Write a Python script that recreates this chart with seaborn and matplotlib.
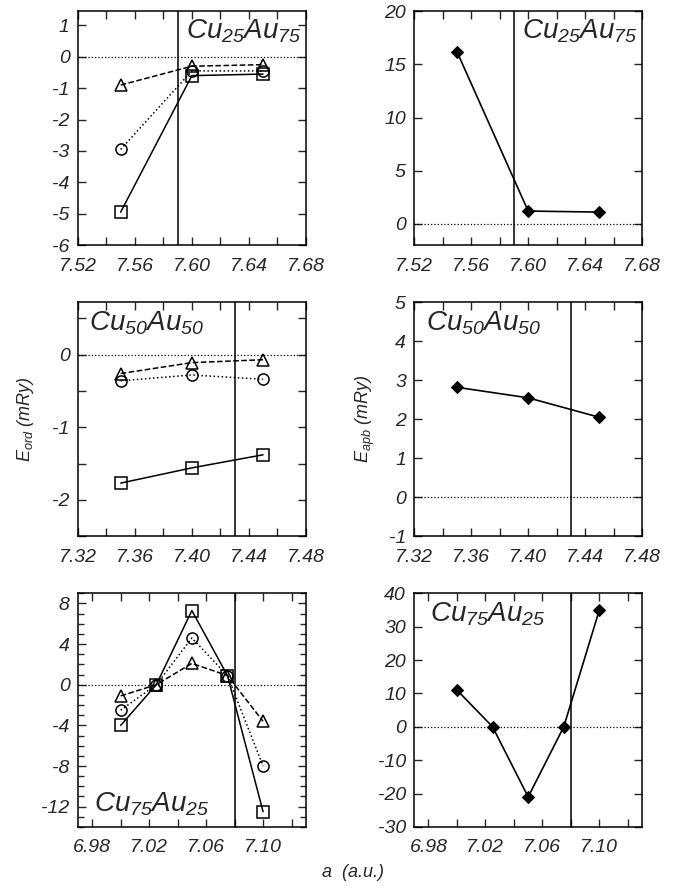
import numpy as np
import seaborn as sns
import matplotlib.pyplot as plt
import matplotlib.ticker as ticker

# ---- data ----
a_cu25 = [7.55, 7.60, 7.65]
ord_sq_cu25 = [-4.95, -0.6, -0.55]
ord_ci_cu25 = [-2.95, -0.45, -0.45]
ord_tr_cu25 = [-0.9, -0.3, -0.25]
apb_cu25 = [16.2, 1.2, 1.1]
a0_cu25 = 7.59

a_cu50 = [7.35, 7.40, 7.45]
ord_sq_cu50 = [-1.77, -1.56, -1.38]
ord_ci_cu50 = [-0.36, -0.28, -0.34]
ord_tr_cu50 = [-0.26, -0.11, -0.07]
apb_cu50 = [2.82, 2.55, 2.05]
a0_cu50 = 7.43

a_cu75 = [7.00, 7.025, 7.05, 7.075, 7.10]
ord_sq_cu75 = [-4.0, 0.0, 7.3, 0.9, -12.5]
ord_ci_cu75 = [-2.5, 0.0, 4.6, 0.9, -8.0]
ord_tr_cu75 = [-1.1, 0.0, 2.1, 0.9, -3.6]
apb_cu75 = [11.0, 0.0, -21.0, 0.0, 35.0]
a0_cu75 = 7.08

sns.set_style("ticks")
plt.rcParams['font.family'] = ['Liberation Sans', 'DejaVu Sans']
plt.rcParams['font.style'] = 'italic'
plt.rcParams['axes.unicode_minus'] = False
plt.rcParams['mathtext.fontset'] = 'custom'
plt.rcParams['mathtext.it'] = 'Liberation Sans:italic'
plt.rcParams['mathtext.rm'] = 'Liberation Sans:italic'

fig = plt.figure(figsize=(6.78, 8.92), dpi=100)

LEFT_X, RIGHT_X, W, H = 0.115, 0.611, 0.336, 0.262
ROWS = [0.7253, 0.399, 0.0729]


def style_axis(ax, xlim, xstart, ylim, ymajor, yminor=None):
	ax.set_xlim(*xlim)
	ax.set_ylim(*ylim)
	xt = np.round(np.arange(xstart, xlim[1] + 1e-6, 0.02), 3)
	ax.set_xticks(xt)
	ax.set_xticklabels(["%.2f" % v if i % 2 == 0 else "" for i, v in enumerate(xt)])
	ax.yaxis.set_major_locator(ticker.MultipleLocator(ymajor))
	if yminor:
		ax.yaxis.set_minor_locator(ticker.MultipleLocator(yminor))
	ax.yaxis.set_major_formatter(ticker.FuncFormatter(lambda v, p: "%g" % v))
	ax.tick_params(which="both", direction="in", top=True, right=True,
		labelsize=14, width=1)
	ax.tick_params(axis="x", pad=9)
	ax.tick_params(axis="y", pad=6)
	ax.tick_params(which="major", length=6)
	ax.tick_params(which="minor", length=4)
	for s in ax.spines.values():
		s.set_linewidth(1.1)
		s.set_color("k")
	for lab in ax.get_xticklabels() + ax.get_yticklabels():
		lab.set_fontstyle("italic")


def ord_panel(ax, a, sq, ci, tr, a0):
	ax.axhline(0, color="k", linestyle=":", linewidth=0.9)
	ax.axvline(a0, color="k", linewidth=1.1)
	common = dict(color="k", markerfacecolor="none", markeredgecolor="k",
		markeredgewidth=1.1, markersize=8, linewidth=1.1, ax=ax)
	sns.lineplot(x=a, y=sq, marker="s", linestyle="-", **common)
	sns.lineplot(x=a, y=ci, marker="o", linestyle=":", **common)
	sns.lineplot(x=a, y=tr, marker="^", linestyle="--", **common)


def apb_panel(ax, a, e, a0):
	ax.axhline(0, color="k", linestyle=":", linewidth=0.9)
	ax.axvline(a0, color="k", linewidth=1.1)
	sns.lineplot(x=a, y=e, marker="D", color="k", markeredgecolor="k",
		markersize=6, linewidth=1.2, ax=ax)


label_kw = dict(fontsize=20, fontstyle="italic")

# row 1: Cu25Au75
ax = fig.add_axes([LEFT_X, ROWS[0], W, H])
ord_panel(ax, a_cu25, ord_sq_cu25, ord_ci_cu25, ord_tr_cu25, a0_cu25)
style_axis(ax, (7.52, 7.68), 7.52, (-6, 1.45), 1)
ax.text(0.98, 0.975, r"$Cu_{25}Au_{75}$", transform=ax.transAxes,
	ha="right", va="top", **label_kw)

ax = fig.add_axes([RIGHT_X, ROWS[0], W, H])
apb_panel(ax, a_cu25, apb_cu25, a0_cu25)
style_axis(ax, (7.52, 7.68), 7.52, (-2, 20), 5)
ax.text(0.98, 0.975, r"$Cu_{25}Au_{75}$", transform=ax.transAxes,
	ha="right", va="top", **label_kw)

# row 2: Cu50Au50
ax = fig.add_axes([LEFT_X, ROWS[1], W, H])
ord_panel(ax, a_cu50, ord_sq_cu50, ord_ci_cu50, ord_tr_cu50, a0_cu50)
style_axis(ax, (7.32, 7.48), 7.32, (-2.5, 0.72), 1, 0.5)
ax.tick_params(which="minor", length=6)
ax.text(0.05, 0.97, r"$Cu_{50}Au_{50}$", transform=ax.transAxes,
	ha="left", va="top", **label_kw)
ax.set_ylabel(r"$E_{ord}$ (mRy)", fontsize=13, fontstyle="italic", labelpad=12)

ax = fig.add_axes([RIGHT_X, ROWS[1], W, H])
apb_panel(ax, a_cu50, apb_cu50, a0_cu50)
style_axis(ax, (7.32, 7.48), 7.32, (-1, 5), 1)
ax.text(0.05, 0.97, r"$Cu_{50}Au_{50}$", transform=ax.transAxes,
	ha="left", va="top", **label_kw)
ax.set_ylabel(r"$E_{apb}$ (mRy)", fontsize=13, fontstyle="italic", labelpad=8)

# row 3: Cu75Au25
ax = fig.add_axes([LEFT_X, ROWS[2], W, H])
ord_panel(ax, a_cu75, ord_sq_cu75, ord_ci_cu75, ord_tr_cu75, a0_cu75)
style_axis(ax, (6.97, 7.13), 6.98, (-14, 9), 4, 1)
ax.text(0.07, 0.04, r"$Cu_{75}Au_{25}$", transform=ax.transAxes,
	ha="left", va="bottom", **label_kw)

ax = fig.add_axes([RIGHT_X, ROWS[2], W, H])
apb_panel(ax, a_cu75, apb_cu75, a0_cu75)
style_axis(ax, (6.97, 7.13), 6.98, (-30, 40), 10)
ax.text(0.07, 0.97, r"$Cu_{75}Au_{25}$", transform=ax.transAxes,
	ha="left", va="top", **label_kw)

fig.text(0.52, 0.022, "a  (a.u.)", ha="center", va="center",
	fontsize=13, fontstyle="italic")

plt.savefig("out.png", dpi=100)
